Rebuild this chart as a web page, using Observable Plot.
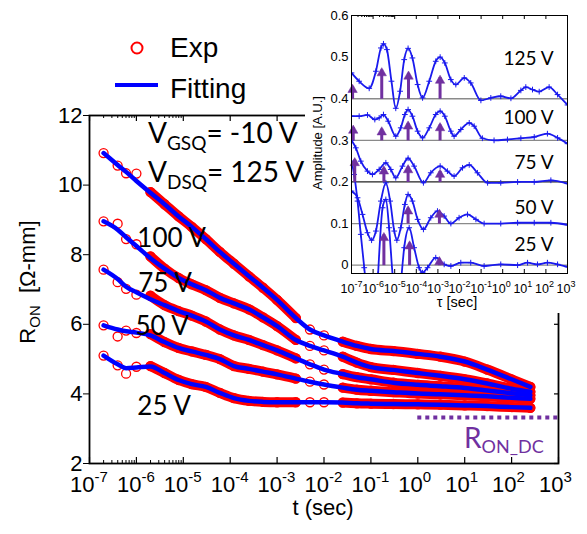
<!DOCTYPE html>
<html><head><meta charset="utf-8">
<script src="https://cdn.jsdelivr.net/npm/d3@7"></script>
<script src="https://cdn.jsdelivr.net/npm/@observablehq/plot@0.6"></script>
<style>
html,body{margin:0;padding:0;background:#fff;}
#wrap{position:relative;width:587px;height:534px;overflow:hidden;}
#wrap svg{position:absolute;background:transparent;}
#white{position:absolute;left:305px;top:0;width:282px;height:313px;background:#fff;}
</style></head><body><div id="wrap"><div id="white"></div></div>
<script>
// ---------- main chart data (R_ON vs t) ----------
const logT = [-6.7,-6.4,-6.22,-6.0,-5.7,-5.4,-5.1,-4.82,-4.52,-4.22,-3.92,-3.6,-3.3,-3.0,-2.6,-2.3,-2.0,-1.6,-1.3,-1.0,-0.52,0,0.48,1.0,1.48,2.0,2.4];
const seriesNames = ["125 V","100 V","75 V","50 V","25 V"];
const fit125 = [10.92,10.58,10.38,10.12,9.78,9.45,9.1,8.8,8.45,8.08,7.74,7.38,7.05,6.7,6.18,5.85,5.68,5.5,5.38,5.29,5.23,5.15,5.07,4.93,4.7,4.42,4.2];
const fit100 = [8.96,8.72,8.5,8.25,7.9,7.6,7.33,7.15,6.98,6.76,6.6,6.43,6.2,5.95,5.55,5.38,5.25,5.07,4.9,4.77,4.69,4.6,4.52,4.42,4.3,4.15,4.06];
const fit75  = [7.57,7.3,7.08,6.92,6.72,6.55,6.38,6.25,6.08,5.85,5.68,5.55,5.4,5.25,5.02,4.85,4.7,4.57,4.48,4.42,4.32,4.26,4.22,4.17,4.1,4.02,3.96];
const fit50  = [5.97,5.85,5.8,5.76,5.68,5.49,5.32,5.22,5.12,5.0,4.8,4.72,4.64,4.56,4.44,4.35,4.27,4.18,4.12,4.09,4.05,4.01,3.99,3.96,3.93,3.89,3.86];
const fit25  = [5.1,4.85,4.74,4.76,4.79,4.6,4.4,4.28,4.2,4.03,3.88,3.8,3.77,3.76,3.76,3.76,3.76,3.75,3.73,3.72,3.71,3.7,3.69,3.67,3.65,3.62,3.6];
const exp125 = [10.92,10.56,10.34,10.33,9.8,9.45,9.1,8.8,8.45,8.08,7.74,7.38,7.05,6.7,6.18,5.85,5.68,5.5,5.38,5.29,5.23,5.15,5.07,4.93,4.7,4.42,4.2];
const exp100 = [8.96,8.89,8.45,8.3,7.95,7.6,7.33,7.15,6.98,6.76,6.6,6.43,6.2,5.95,5.55,5.38,5.25,5.07,4.9,4.77,4.69,4.6,4.52,4.42,4.3,4.15,4.06];
const exp75  = [7.57,7.21,7.02,6.85,6.82,6.55,6.38,6.25,6.08,5.85,5.68,5.55,5.4,5.25,5.02,4.85,4.7,4.57,4.48,4.42,4.32,4.26,4.22,4.17,4.1,4.02,3.96];
const exp50  = [5.97,5.65,5.82,5.75,5.72,5.49,5.32,5.22,5.12,5.0,4.8,4.72,4.64,4.56,4.44,4.35,4.27,4.18,4.12,4.09,4.05,4.01,3.99,3.96,3.93,3.89,3.86];
const exp25  = [5.1,4.82,4.58,4.78,4.8,4.6,4.4,4.28,4.2,4.03,3.88,3.8,3.77,3.76,3.76,3.76,3.76,3.75,3.73,3.72,3.71,3.7,3.69,3.67,3.65,3.62,3.6];
const denseSpans = [[-5.75,-2.55],[-1.65,2.45]]; // time spans where Exp points are densely sampled
const ronDC = 3.32, ronDCStart = 1;
const labelExp = [-5.98,-5.96,-6.02,-5.98];
const labelR = [8.21,6.94,5.68,3.38];
const labelText = ["100 V","75 V","50 V","25 V"];
const yTicks = [2,4,6,8,10,12];
const decadeExp = [-7,-6,-5,-4,-3,-2,-1,0,1,2,3];

// ---------- inset data (amplitude spectra vs tau) ----------
const ins125E = [-7.0,-6.645,-6.18,-5.87,-5.64,-5.52,-5.36,-5.15,-4.95,-4.75,-4.56,-4.38,-4.18,-3.94,-3.71,-3.40,-3.10,-2.895,-2.68,-2.40,-2.17,-1.78,-1.48,-1.01,-0.55,-0.09,0.38,0.84,1.07,1.38,1.69,2.15,2.54,3.0];
const ins125A = [0.462,0.442,0.425,0.466,0.522,0.532,0.518,0.442,0.377,0.418,0.494,0.521,0.498,0.434,0.402,0.442,0.49,0.50,0.486,0.446,0.434,0.45,0.438,0.396,0.402,0.406,0.401,0.42,0.428,0.422,0.417,0.428,0.41,0.385];
const ins100E = [-7.0,-6.645,-6.26,-5.92,-5.72,-5.52,-5.30,-4.95,-4.72,-4.53,-4.38,-4.18,-3.94,-3.71,-3.40,-3.10,-2.895,-2.68,-2.40,-2.25,-1.94,-1.55,-1.32,-0.94,-0.40,0.22,0.84,1.46,2.07,2.54,3.0];
const ins100A = [0.358,0.358,0.361,0.35,0.354,0.362,0.346,0.31,0.33,0.362,0.374,0.358,0.322,0.306,0.33,0.362,0.37,0.358,0.322,0.31,0.326,0.342,0.334,0.305,0.30,0.302,0.305,0.308,0.316,0.306,0.292];
const ins75E = [-7.0,-6.8,-6.57,-6.26,-6.03,-5.72,-5.41,-5.18,-4.95,-4.64,-4.38,-4.10,-3.67,-3.33,-2.895,-2.56,-2.25,-1.86,-1.55,-1.17,-0.70,-0.09,0.69,1.46,2.23,3.0];
const ins75A = [0.30,0.282,0.25,0.226,0.218,0.23,0.246,0.23,0.21,0.238,0.257,0.238,0.198,0.222,0.238,0.226,0.214,0.234,0.241,0.222,0.198,0.198,0.2,0.2,0.204,0.196];
const ins50E = [-7.0,-6.72,-6.49,-6.26,-6.07,-5.87,-5.64,-5.41,-5.21,-5.02,-4.90,-4.72,-4.53,-4.38,-4.18,-3.94,-3.67,-3.33,-3.02,-2.71,-2.40,-2.02,-1.63,-1.24,-0.86,-0.09,0.69,1.46,2.23,3.0];
const ins50A = [0.178,0.162,0.122,0.078,0.06,0.082,0.154,0.198,0.154,0.082,0.06,0.09,0.146,0.17,0.154,0.11,0.086,0.114,0.13,0.118,0.10,0.114,0.122,0.11,0.10,0.10,0.102,0.102,0.102,0.097];
const ins25E = [-7.0,-6.88,-6.72,-6.57,-6.41,-6.26,-6.03,-5.87,-5.77,-5.56,-5.41,-5.26,-5.10,-4.90,-4.72,-4.56,-4.33,-4.10,-3.87,-3.71,-3.48,-3.10,-2.71,-2.40,-1.94,-1.48,-0.86,-0.09,0.69,1.15,1.61,2.07,2.54,3.0];
const ins25A = [0.25,0.218,0.154,0.074,-0.006,-0.086,-0.2,-0.12,-0.022,0.138,0.158,0.09,-0.022,-0.13,-0.046,0.042,0.09,0.042,-0.006,-0.018,-0.006,0.018,0.002,-0.002,0.006,0.006,-0.002,0.002,0,0.006,0.002,0.006,0.002,-0.004];
const insBaselines = [0,0.1,0.2,0.3,0.4];
const insYTicks = [0,0.1,0.2,0.3,0.4,0.5,0.6];
const arrowExp  = [-6.95,-5.6,-4.36,-2.9, -6.92,-5.6,-4.38,-2.9, -6.85,-5.5,-4.38,-2.9, -4.38,-2.93, -5.5,-4.31,-2.93];
const arrowBase = [0.4,0.4,0.4,0.4, 0.3,0.3,0.3,0.3, 0.2,0.2,0.2,0.2, 0.1,0.1, 0,0,0];
const arrowTop  = [0.43,0.47,0.462,0.452, 0.332,0.328,0.342,0.338, 0.254,0.234,0.237,0.226, 0.138,0.13, 0.074,0.054,0.016];
const insLabelAmp = [0.48,0.34,0.232,0.124,0.033];

// ---------- build ----------
const PURPLE = "#7030a0", RED = "#ff0000", BLUE = "#0000ff";
const fits = [fit125,fit100,fit75,fit50,fit25];
const exps = [exp125,exp100,exp75,exp50,exp25];
const rows = [];
seriesNames.forEach((s, k) => logT.forEach((e, i) => {
  const seg = denseSpans.findIndex(([a, b]) => e >= a && e <= b);
  rows.push({series: s, t: 10 ** e, fit: fits[k][i], exp: exps[k][i], seg});
}));
const decades = decadeExp.map(e => 10 ** e);
const minor = [];
[-7, -6].forEach(e => { for (let m = 2; m < 10; m++) minor.push(m * 10 ** e); });
const labels = labelText.map((s, i) => ({s, t: 10 ** labelExp[i], r: labelR[i]}));

const W = 587, H = 534, mT = 115, mB = 71, mL = 89, mR = 29;
const fH = H - mT - mB, fW = W - mL - mR;
const main = Plot.plot({
  width: W, height: H, marginTop: mT, marginBottom: mB, marginLeft: mL, marginRight: mR,
  style: {background: "transparent", fontFamily: "'Liberation Sans', Arial, sans-serif", color: "#000"},
  x: {type: "log", domain: [1e-7, 1e3], axis: null},
  y: {domain: [2, 12]},
  marks: [
    Plot.ruleY([ronDC], {x1: ronDCStart, x2: 1e3, stroke: PURPLE, strokeWidth: 4, strokeDasharray: "4,4"}),
    Plot.line(rows.filter(d => d.seg >= 0), {x: "t", y: "exp", z: d => d.series + d.seg, stroke: RED, strokeWidth: 10, strokeLinecap: "round", curve: "monotone-x"}),
    Plot.dot(rows, {x: "t", y: "exp", r: 4.5, stroke: RED, strokeWidth: 1.3}),
    Plot.line(rows, {x: "t", y: "fit", z: "series", stroke: BLUE, strokeWidth: 4.5, curve: "monotone-x"}),
    Plot.text(labels, {x: "t", y: "r", text: "s", textAnchor: "start", lineAnchor: "bottom", fontSize: 26, fontFamily: "Lato", fill: "#000"}),
    Plot.frame({stroke: "#000", strokeWidth: 1.8}),
    Plot.axisY({ticks: yTicks, tickSize: 6, tickPadding: 1, fontSize: 22, tickFormat: d => String(d)}),
    Plot.ruleY(yTicks, {y: d => d, insetLeft: fW - 4, stroke: "#000", strokeWidth: 1.2}),
    Plot.ruleX(decades, {x: d => d, insetTop: fH - 6, stroke: "#000", strokeWidth: 1.2}),
    Plot.ruleX(decades, {x: d => d, insetBottom: fH - 6, stroke: "#000", strokeWidth: 1.2}),
    Plot.ruleX(minor, {x: d => d, insetTop: fH - 3, stroke: "#000"}),
    Plot.ruleX(minor, {x: d => d, insetBottom: fH - 3, stroke: "#000"}),
    Plot.text(decades, {x: d => d, frameAnchor: "bottom", text: () => "10", textAnchor: "end", lineAnchor: "bottom", dx: 5, dy: 28, fontSize: 22}),
    Plot.text(decades, {x: d => d, frameAnchor: "bottom", text: d => String(Math.round(Math.log10(d))), textAnchor: "start", lineAnchor: "bottom", dx: 5, dy: 18, fontSize: 15})
  ]
});
main.style.left = "0px"; main.style.top = "0px";
const wrap = document.getElementById("wrap");
wrap.insertBefore(main, document.getElementById("white"));

// annotations on main svg
const ms = d3.select(main);
function rich(sel, x, y, parts, opts = {}) {
  const t = sel.append("text").attr("x", x).attr("y", y)
    .attr("font-family", opts.family || "Lato").attr("fill", opts.fill || "#000")
    .attr("text-anchor", opts.anchor || (opts.rotate ? "middle" : "start"));
  if (opts.rotate) t.attr("transform", `rotate(-90 ${x} ${y})`);
  let prev = 0;
  parts.forEach(([txt, size, shift]) => {
    t.append("tspan").attr("font-size", size).attr("dy", shift - prev).text(txt);
    prev = shift;
  });
  return t;
}
const ARIAL = "'Liberation Sans', Arial, sans-serif";
rich(ms, 148, 143, [["V", 28, 0], ["GSQ", 19, 7], ["= -10 V", 28, 0]]);
rich(ms, 148, 182, [["V", 28, 0], ["DSQ", 19, 7], ["= 125 V", 28, 0]]);
rich(ms, 464, 448, [["R", 28, 0], ["ON_DC", 18, 5]], {fill: PURPLE});
rich(ms, 35, 282, [["R", 22, 0], ["ON", 15, 5], ["  [Ω-mm]", 22, 0]], {family: ARIAL, rotate: true});
rich(ms, 323, 515, [["t (sec)", 22, 0]], {family: ARIAL, anchor: "middle"});
// legend
ms.append("circle").attr("cx", 137).attr("cy", 48).attr("r", 5.5).attr("fill", "none").attr("stroke", RED).attr("stroke-width", 2);
ms.append("line").attr("x1", 115).attr("x2", 158).attr("y1", 85).attr("y2", 85).attr("stroke", BLUE).attr("stroke-width", 4);
rich(ms, 170, 57, [["Exp", 28, 0]], {family: ARIAL});
rich(ms, 170, 98, [["Fitting", 28, 0]], {family: ARIAL});

// ---------- inset ----------
const insE = [ins125E, ins100E, ins75E, ins50E, ins25E];
const insA = [ins125A, ins100A, ins75A, ins50A, ins25A];
const insRows = [];
seriesNames.forEach((s, k) => insE[k].forEach((e, i) => insRows.push({series: s, tau: 10 ** e, amp: insA[k][i]})));
const arrows = arrowExp.map((e, i) => ({tau: 10 ** e, base: arrowBase[i], top: arrowTop[i]}));
const insLabels = seriesNames.map((s, i) => ({s, a: insLabelAmp[i]}));
const iW = 297, iH = 320, iT = 15, iB = 47, iL = 61, iR = 20;
const ifH = iH - iT - iB;
const INBLUE = "#1a1aee";
const inset = Plot.plot({
  width: iW, height: iH, marginTop: iT, marginBottom: iB, marginLeft: iL, marginRight: iR,
  style: {background: "transparent", fontFamily: ARIAL, color: "#000"},
  x: {type: "log", domain: [1e-7, 1e3], axis: null},
  y: {domain: [-0.02, 0.6]},
  marks: [
    Plot.ruleY(insBaselines, {y: d => d, stroke: d => d === 0.2 ? "#222" : "#8a8a8a", strokeWidth: 1.3}),
    Plot.line(insRows, {x: "tau", y: "amp", z: "series", stroke: INBLUE, strokeWidth: 1.8, curve: "monotone-x", clip: true}),
    Plot.dot(insRows, {x: "tau", y: "amp", symbol: "plus", r: 2, stroke: INBLUE, strokeWidth: 1, clip: true}),
    Plot.link(arrows, {x1: "tau", x2: "tau", y1: "base", y2: "top", stroke: PURPLE, strokeWidth: 3}),
    Plot.dot(arrows, {x: "tau", y: "top", symbol: "triangle", r: 3.5, dy: 3.5, fill: PURPLE, stroke: PURPLE, strokeWidth: 0.5}),
    Plot.text(insLabels, {y: "a", text: "s", frameAnchor: "right", dx: -14, textAnchor: "end", lineAnchor: "bottom", fontSize: 19, fontFamily: "Lato", fill: "#000"}),
    Plot.frame({stroke: "#000", strokeWidth: 1}),
    Plot.axisY({ticks: insYTicks, tickSize: 0, tickPadding: 3, fontSize: 13, tickFormat: d => d === 0 ? "0" : d.toFixed(1)}),
    Plot.ruleX(decades, {x: d => d, insetTop: ifH - 4, stroke: "#000"}),
    Plot.ruleX(decades, {x: d => d, insetBottom: ifH - 4, stroke: "#000"}),
    Plot.ruleX(minor, {x: d => d, insetBottom: ifH - 2, stroke: "#000"}),
    Plot.text(decades, {x: d => d, frameAnchor: "bottom", text: () => "10", textAnchor: "end", lineAnchor: "bottom", dx: 3, dy: 19, fontSize: 12.5}),
    Plot.text(decades, {x: d => d, frameAnchor: "bottom", text: d => String(Math.round(Math.log10(d))), textAnchor: "start", lineAnchor: "bottom", dx: 3, dy: 13, fontSize: 9})
  ]
});
inset.style.left = "290px"; inset.style.top = "0px";
wrap.appendChild(inset);
const is = d3.select(inset);
rich(is, 32, 143, [["Amplitude [A.U.]", 13, 0]], {family: ARIAL, rotate: true});
rich(is, 167, 307, [["τ [sec]", 14.5, 0]], {family: ARIAL, anchor: "middle"});
</script></body></html>
